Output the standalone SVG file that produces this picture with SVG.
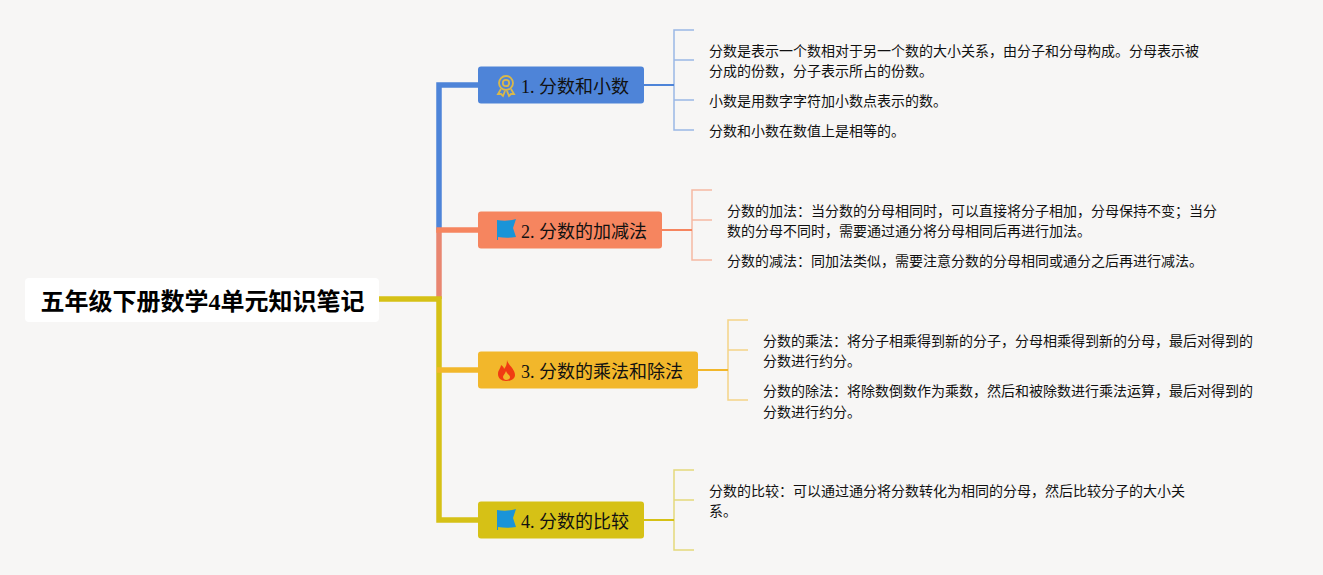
<svg xmlns="http://www.w3.org/2000/svg" width="1323" height="575" viewBox="0 0 1323 575">
<style>
text{font-family:"Liberation Serif","Noto Sans CJK SC",serif;fill:#111}
.n{font-size:14px}
.t{font-size:18px}
.r{font-size:24px;font-weight:700;fill:#000}
path{fill:none;stroke-linejoin:miter}
.m{stroke-width:5.5}
.s{stroke-width:2}
.b{stroke-width:1.500;stroke-opacity:.55}
.flag{fill:#1a94d8;stroke:none}
</style>
<rect width="1323" height="575" fill="#f7f6f5"/>
<g id="connectors">
<path class="m" stroke="#4e84d8" d="M478 85H439V230"/>
<path class="m" stroke="#e98670" d="M439 230V299"/>
<path class="m" stroke="#f6855f" d="M478 230H436.250"/>
<path class="m" stroke="#d6c116" d="M379 299H439V520H478"/>
<path class="m" stroke="#f2b72b" d="M437 370H478"/>
<path class="s" stroke="#4e84d8" d="M644 85H674"/>
<path class="b" stroke="#4e84d8" d="M694 30H674V130H694M674 60H694M674 100H694"/>
<path class="s" stroke="#f6855f" d="M662 230H692"/>
<path class="b" stroke="#f6855f" d="M712 190H692V260H712M692 220H712"/>
<path class="s" stroke="#f2b72b" d="M698 370H728"/>
<path class="b" stroke="#f2b72b" d="M748 320H728V400H748M728 350H748"/>
<path class="s" stroke="#d6c116" d="M644 520H674"/>
<path class="b" stroke="#d6c116" d="M694 470H674V550H694M674 500H694"/>
</g>
<g id="root"><rect x="25" y="278" width="354" height="44" rx="4" fill="#fff"/><text class="r" x="40.500" y="310">五年级下册数学4单元知识笔记</text></g>
<g id="topic1"><rect x="478" y="66.500" width="166" height="37" rx="3" fill="#4e84d8"/>
<g fill="none" stroke="#d9b84a" stroke-width="1.800"><circle cx="506" cy="83" r="7"/><circle cx="506" cy="83" r="3.200"/><path d="M501 89l-3 5 3 0 2 2 2-5M511 89l3 5-3 0-2 2-2-5"/></g>
<text class="t" x="521" y="92.500">1. 分数和小数</text></g>
<g id="topic2"><rect x="478" y="211.500" width="184" height="37" rx="3" fill="#f6855f"/>
<path class="flag" d="M497 220C503 221 510 221 516 219L513 228L516 237C510 238 504 238 498 237V240H497Z"/>
<text class="t" x="521" y="237.500">2. 分数的加减法</text></g>
<g id="topic3"><rect x="478" y="351.500" width="220" height="37" rx="3" fill="#f2b72b"/>
<path d="M507 360C508 365 515 369 515 375C515 379 511 381 506 381C501 381 498 378 498 374C498 370 501 368 501 365C503 366 504 368 504 369C506 367 507 364 507 360ZM506 371C505 374 503 375 503 377C503 379 505 380 506 380C508 380 510 379 510 377C510 375 507 374 506 371Z" style="fill:#f03b12;fill-rule:evenodd"/>
<text class="t" x="521" y="377.500">3. 分数的乘法和除法</text></g>
<g id="topic4"><rect x="478" y="501.500" width="166" height="37" rx="3" fill="#d6c116"/>
<path class="flag" d="M497 510C503 511 510 511 516 509L513 518L516 527C510 528 504 528 498 527V530H497Z"/>
<text class="t" x="521" y="527.500">4. 分数的比较</text></g>
<g id="n11"><text class="n" x="709" y="56">分数是表示一个数相对于另一个数的大小关系，由分子和分母构成。分母表示被</text><text class="n" x="709" y="76">分成的份数，分子表示所占的份数。</text></g>
<g id="n12"><text class="n" x="709" y="106">小数是用数字字符加小数点表示的数。</text></g>
<g id="n13"><text class="n" x="709" y="136">分数和小数在数值上是相等的。</text></g>
<g id="n21"><text class="n" x="727" y="216">分数的加法：当分数的分母相同时，可以直接将分子相加，分母保持不变；当分</text><text class="n" x="727" y="236">数的分母不同时，需要通过通分将分母相同后再进行加法。</text></g>
<g id="n22"><text class="n" x="727" y="266">分数的减法：同加法类似，需要注意分数的分母相同或通分之后再进行减法。</text></g>
<g id="n31"><text class="n" x="763" y="346">分数的乘法：将分子相乘得到新的分子，分母相乘得到新的分母，最后对得到的</text><text class="n" x="763" y="366">分数进行约分。</text></g>
<g id="n32"><text class="n" x="763" y="396">分数的除法：将除数倒数作为乘数，然后和被除数进行乘法运算，最后对得到的</text><text class="n" x="763" y="417">分数进行约分。</text></g>
<g id="n41"><text class="n" x="709" y="496">分数的比较：可以通过通分将分数转化为相同的分母，然后比较分子的大小关</text><text class="n" x="709" y="516">系。</text></g>
</svg>
